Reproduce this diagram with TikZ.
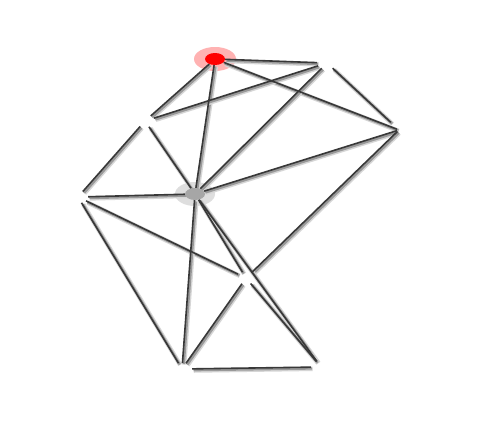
\documentclass[tikz,border=0pt]{standalone}
\usetikzlibrary{shapes.geometric}
\pgfdeclarelayer{halo}
\pgfdeclarelayer{edges}
\pgfsetlayers{halo,edges,main}
\begin{document}
\begin{tikzpicture}[x=1pt,y=-1pt,
  vnode/.style={ellipse, minimum width=20pt, minimum height=12pt, inner sep=0pt},
  halo/.style={ellipse, minimum width=42pt, minimum height=24pt, inner sep=0pt},
  edgeline/.style={draw=black!78, line width=1.6pt},
  shadowwide/.style={draw=black!16, line width=4.4pt, transform canvas={shift={(1.7pt,-1.7pt)}}},
  shadownarrow/.style={draw=black!40, line width=2.4pt, transform canvas={shift={(1.3pt,-1.3pt)}}}
]
\useasboundingbox (0,0) rectangle (500,434);
% nodes
\node[vnode, fill=red] (A) at (215,59) {};
\node[vnode] (B) at (327,63) {};
\node[ellipse, minimum width=4pt, minimum height=4pt, inner sep=0pt] (D) at (399,130) {};
\node[vnode] (E) at (145,121) {};
\node[vnode] (H) at (78,197) {};
\node[vnode, fill=black!35] (G) at (195,194) {};
\node[vnode] (K) at (246,278) {};
\node[vnode] (L) at (182,369) {};
\node[vnode] (M) at (321,367) {};
% background and halos
\begin{pgfonlayer}{halo}
\fill[white] (0,0) rectangle (500,434);
\node[halo, fill=red!30] (Ahalo) at (A) {};
\node[halo, fill=black!13, minimum width=40pt] (Ghalo) at (G) {};
\end{pgfonlayer}
% edges
\begin{pgfonlayer}{edges}
\foreach \a/\b/\s in {A/B/0, A/E/0, A/G/0, A/D/0, B/E/0, B/G/0, B/D/9, D/G/0, D/K/0,
  E/H/0, E/G/0, H/G/0, H/K/0, H/L/0, G/K/0, G/L/0, G/M/0, K/L/0, K/M/0, L/M/0} {
  \draw[shadowwide, shorten >=\s pt] (\a) -- (\b);
  \draw[shadownarrow, shorten >=\s pt] (\a) -- (\b);
}
\foreach \a/\b/\s in {A/B/0, A/E/0, A/G/0, A/D/0, B/E/0, B/G/0, B/D/9, D/G/0, D/K/0,
  E/H/0, E/G/0, H/G/0, H/K/0, H/L/0, G/K/0, G/L/0, G/M/0, K/L/0, K/M/0, L/M/0} {
  \draw[edgeline, shorten >=\s pt] (\a) -- (\b);
}
\end{pgfonlayer}
\end{tikzpicture}
\end{document}
